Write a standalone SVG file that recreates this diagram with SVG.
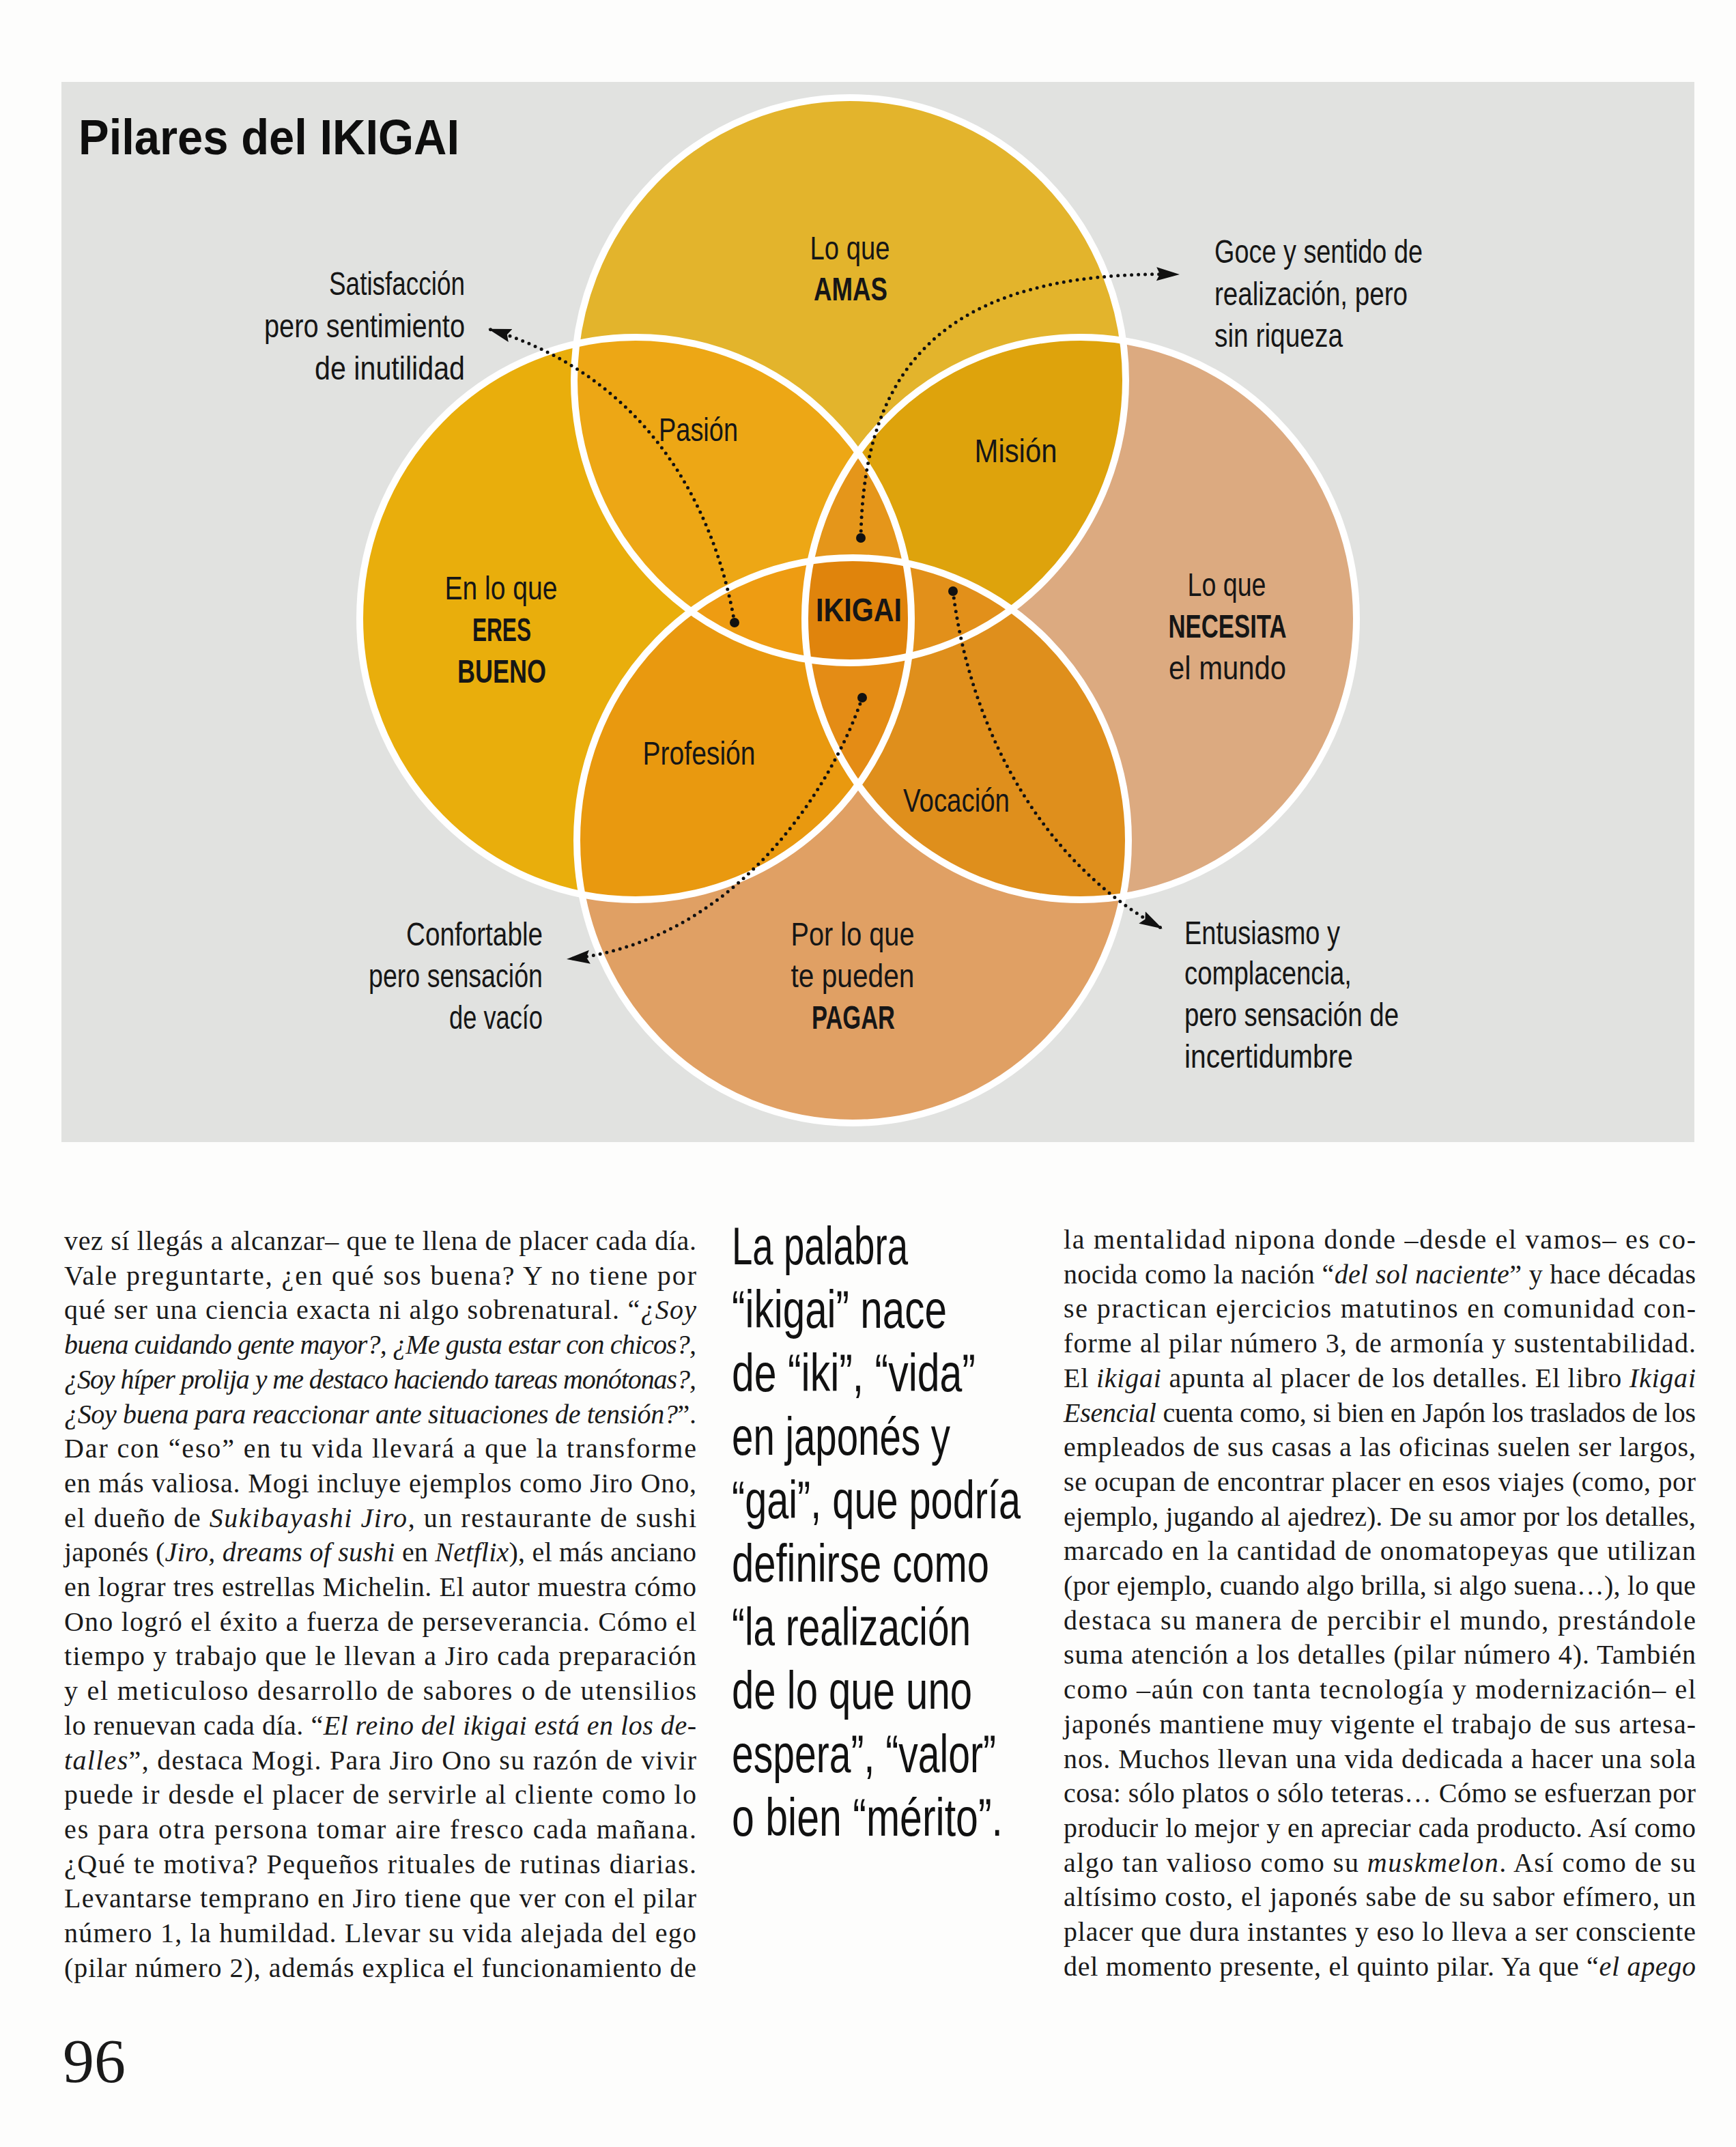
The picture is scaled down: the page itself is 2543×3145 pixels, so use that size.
<svg xmlns="http://www.w3.org/2000/svg" xmlns:xlink="http://www.w3.org/1999/xlink" width="2543" height="3145" viewBox="0 0 2543 3145">
<style>
.lbl{font-family:'Liberation Sans',Arial,sans-serif;font-size:48px;fill:#161616}
.b{font-weight:bold;font-size:48px}
.title{font-family:'Liberation Sans',Arial,sans-serif;font-weight:bold;font-size:72px;fill:#0e0e0e}
.body{font-family:'Liberation Serif','Times New Roman',serif;font-size:40px;fill:#1a1a1a}
.it{font-style:italic}
.pq{font-family:'Liberation Sans',Arial,sans-serif;font-size:78px;fill:#111}
.dots{fill:none;stroke:#111;stroke-width:5;stroke-linecap:round;stroke-dasharray:0 10}
.ring{fill:none;stroke:#ffffff;stroke-width:10}
</style>
<defs>
<ellipse id="eT" cx="1245" cy="557" rx="404" ry="414"/>
<ellipse id="eL" cx="931" cy="906" rx="404" ry="412"/>
<ellipse id="eR" cx="1583" cy="906" rx="404" ry="412"/>
<ellipse id="eB" cx="1249" cy="1231" rx="404" ry="414"/>
<clipPath id="cT"><ellipse cx="1245" cy="557" rx="404" ry="414"/></clipPath>
<clipPath id="cL"><ellipse cx="931" cy="906" rx="404" ry="412"/></clipPath>
<clipPath id="cR"><ellipse cx="1583" cy="906" rx="404" ry="412"/></clipPath>
<clipPath id="cB"><ellipse cx="1249" cy="1231" rx="404" ry="414"/></clipPath>
<marker id="arr" markerUnits="userSpaceOnUse" viewBox="0 0 34 22" markerWidth="34" markerHeight="22" refX="33" refY="11" orient="auto"><path d="M0,1 L34,11 L0,21 L5,11 z" fill="#111"/></marker>
</defs>

<rect x="0" y="0" width="2543" height="3145" fill="#fdfdfc"/>
<g id="panel"><rect x="90" y="120" width="2392" height="1553" fill="#e1e2e0"/></g>

<g id="title"><text class="title" x="115" y="226" textLength="558" lengthAdjust="spacingAndGlyphs">Pilares del IKIGAI</text></g>

<g id="circle-amas">
<use xlink:href="#eT" fill="#e3b42c"/>
<text class="lbl" x="1245" y="380" text-anchor="middle" textLength="117" lengthAdjust="spacingAndGlyphs">Lo que</text>
<text class="lbl b" x="1246" y="440" text-anchor="middle" textLength="108" lengthAdjust="spacingAndGlyphs">AMAS</text>
</g>
<g id="circle-eres-bueno">
<use xlink:href="#eL" fill="#e9ae0c"/>
<text class="lbl" x="734" y="878" text-anchor="middle" textLength="165" lengthAdjust="spacingAndGlyphs">En lo que</text>
<text class="lbl b" x="735" y="939" text-anchor="middle" textLength="86" lengthAdjust="spacingAndGlyphs">ERES</text>
<text class="lbl b" x="735" y="1000" text-anchor="middle" textLength="130" lengthAdjust="spacingAndGlyphs">BUENO</text>
</g>
<g id="circle-necesita">
<use xlink:href="#eR" fill="#dcaa80"/>
<text class="lbl" x="1797" y="873" text-anchor="middle" textLength="115" lengthAdjust="spacingAndGlyphs">Lo que</text>
<text class="lbl b" x="1798" y="934" text-anchor="middle" textLength="173" lengthAdjust="spacingAndGlyphs">NECESITA</text>
<text class="lbl" x="1798" y="995" text-anchor="middle" textLength="172" lengthAdjust="spacingAndGlyphs">el mundo</text>
</g>
<g id="circle-pagar">
<use xlink:href="#eB" fill="#e0a064"/>
<text class="lbl" x="1249" y="1385" text-anchor="middle" textLength="181" lengthAdjust="spacingAndGlyphs">Por lo que</text>
<text class="lbl" x="1249" y="1446" text-anchor="middle" textLength="181" lengthAdjust="spacingAndGlyphs">te pueden</text>
<text class="lbl b" x="1250" y="1507" text-anchor="middle" textLength="122" lengthAdjust="spacingAndGlyphs">PAGAR</text>
</g>

<g id="region-pasion">
<g clip-path="url(#cT)"><use xlink:href="#eL" fill="#eda715"/></g>
<text class="lbl" x="1023" y="646" text-anchor="middle" textLength="116" lengthAdjust="spacingAndGlyphs">Pasión</text>
</g>
<g id="region-mision">
<g clip-path="url(#cT)"><use xlink:href="#eR" fill="#dea30c"/></g>
<text class="lbl" x="1488" y="677" text-anchor="middle" textLength="121" lengthAdjust="spacingAndGlyphs">Misión</text>
</g>
<g id="region-profesion">
<g clip-path="url(#cL)"><use xlink:href="#eB" fill="#e9990f"/></g>
<text class="lbl" x="1024" y="1120" text-anchor="middle" textLength="165" lengthAdjust="spacingAndGlyphs">Profesión</text>
</g>
<g id="region-vocacion">
<g clip-path="url(#cR)"><use xlink:href="#eB" fill="#df8f1c"/></g>
<text class="lbl" x="1401" y="1189" text-anchor="middle" textLength="156" lengthAdjust="spacingAndGlyphs">Vocación</text>
</g>
<g id="region-amas-bueno-necesita">
<g clip-path="url(#cT)"><g clip-path="url(#cL)"><use xlink:href="#eR" fill="#e5961a"/></g></g>
</g>
<g id="region-amas-bueno-pagar">
<g clip-path="url(#cT)"><g clip-path="url(#cL)"><use xlink:href="#eB" fill="#ee9c12"/></g></g>
</g>
<g id="region-amas-necesita-pagar">
<g clip-path="url(#cT)"><g clip-path="url(#cR)"><use xlink:href="#eB" fill="#e2901a"/></g></g>
</g>
<g id="region-bueno-necesita-pagar">
<g clip-path="url(#cL)"><g clip-path="url(#cR)"><use xlink:href="#eB" fill="#e48c15"/></g></g>
</g>
<g id="region-ikigai">
<g clip-path="url(#cT)"><g clip-path="url(#cL)"><g clip-path="url(#cR)"><use xlink:href="#eB" fill="#e0840c"/></g></g></g>
<text class="lbl b" x="1258" y="910" text-anchor="middle" textLength="126" lengthAdjust="spacingAndGlyphs">IKIGAI</text>
</g>

<g id="outlines">
<use xlink:href="#eT" class="ring"/>
<use xlink:href="#eL" class="ring"/>
<use xlink:href="#eR" class="ring"/>
<use xlink:href="#eB" class="ring"/>
</g>

<g id="connectors">
<path class="dots" d="M1076,912 C1050,760 960,555 716,482" marker-end="url(#arr)"/>
<path class="dots" d="M1261,788 C1265,540 1380,395 1727,402" marker-end="url(#arr)"/>
<path class="dots" d="M1263,1022 C1220,1150 1080,1380 831,1405" marker-end="url(#arr)"/>
<path class="dots" d="M1396,866 C1420,1060 1520,1260 1702,1360" marker-end="url(#arr)"/>
<circle cx="1076" cy="912" r="7" fill="#111"/>
<circle cx="1261" cy="788" r="7" fill="#111"/>
<circle cx="1263" cy="1022" r="7" fill="#111"/>
<circle cx="1396" cy="866" r="7" fill="#111"/>
</g>

<g id="note-satisfaccion">
<text class="lbl" x="681" y="432" text-anchor="end" textLength="199" lengthAdjust="spacingAndGlyphs">Satisfacción</text>
<text class="lbl" x="681" y="494" text-anchor="end" textLength="294" lengthAdjust="spacingAndGlyphs">pero sentimiento</text>
<text class="lbl" x="681" y="556" text-anchor="end" textLength="220" lengthAdjust="spacingAndGlyphs">de inutilidad</text>
</g>
<g id="note-goce">
<text class="lbl" x="1779" y="385" textLength="305" lengthAdjust="spacingAndGlyphs">Goce y sentido de</text>
<text class="lbl" x="1779" y="447" textLength="283" lengthAdjust="spacingAndGlyphs">realización, pero</text>
<text class="lbl" x="1779" y="508" textLength="188" lengthAdjust="spacingAndGlyphs">sin riqueza</text>
</g>
<g id="note-confortable">
<text class="lbl" x="795" y="1385" text-anchor="end" textLength="200" lengthAdjust="spacingAndGlyphs">Confortable</text>
<text class="lbl" x="795" y="1446" text-anchor="end" textLength="255" lengthAdjust="spacingAndGlyphs">pero sensación</text>
<text class="lbl" x="795" y="1507" text-anchor="end" textLength="137" lengthAdjust="spacingAndGlyphs">de vacío</text>
</g>
<g id="note-entusiasmo">
<text class="lbl" x="1735" y="1383" textLength="228" lengthAdjust="spacingAndGlyphs">Entusiasmo y</text>
<text class="lbl" x="1735" y="1442" textLength="245" lengthAdjust="spacingAndGlyphs">complacencia,</text>
<text class="lbl" x="1735" y="1503" textLength="314" lengthAdjust="spacingAndGlyphs">pero sensación de</text>
<text class="lbl" x="1735" y="1564" textLength="247" lengthAdjust="spacingAndGlyphs">incertidumbre</text>
</g>

<g id="body-left">
<text class="body" x="94" y="1831" textLength="926" lengthAdjust="spacing">vez sí llegás a alcanzar– que te llena de placer cada día.</text>
<text class="body" x="94" y="1882" textLength="926" lengthAdjust="spacing">Vale preguntarte, ¿en qué sos buena? Y no tiene por</text>
<text class="body" x="94" y="1932" textLength="926" lengthAdjust="spacing">qué ser una ciencia exacta ni algo sobrenatural. “<tspan class="it">¿Soy</tspan></text>
<text class="body it" x="94" y="1983" textLength="926" lengthAdjust="spacing">buena cuidando gente mayor?, ¿Me gusta estar con chicos?,</text>
<text class="body it" x="94" y="2034" textLength="926" lengthAdjust="spacing">¿Soy híper prolija y me destaco haciendo tareas monótonas?,</text>
<text class="body" x="94" y="2085" textLength="926" lengthAdjust="spacing"><tspan class="it">¿Soy buena para reaccionar ante situaciones de tensión?</tspan>”.</text>
<text class="body" x="94" y="2135" textLength="926" lengthAdjust="spacing">Dar con “eso” en tu vida llevará a que la transforme</text>
<text class="body" x="94" y="2186" textLength="926" lengthAdjust="spacing">en más valiosa. Mogi incluye ejemplos como Jiro Ono,</text>
<text class="body" x="94" y="2237" textLength="926" lengthAdjust="spacing">el dueño de <tspan class="it">Sukibayashi Jiro</tspan>, un restaurante de sushi</text>
<text class="body" x="94" y="2287" textLength="926" lengthAdjust="spacing">japonés (<tspan class="it">Jiro, dreams of sushi</tspan> en <tspan class="it">Netflix</tspan>), el más anciano</text>
<text class="body" x="94" y="2338" textLength="926" lengthAdjust="spacing">en lograr tres estrellas Michelin. El autor muestra cómo</text>
<text class="body" x="94" y="2389" textLength="926" lengthAdjust="spacing">Ono logró el éxito a fuerza de perseverancia. Cómo el</text>
<text class="body" x="94" y="2439" textLength="926" lengthAdjust="spacing">tiempo y trabajo que le llevan a Jiro cada preparación</text>
<text class="body" x="94" y="2490" textLength="926" lengthAdjust="spacing">y el meticuloso desarrollo de sabores o de utensilios</text>
<text class="body" x="94" y="2541" textLength="926" lengthAdjust="spacing">lo renuevan cada día. “<tspan class="it">El reino del ikigai está en los de-</tspan></text>
<text class="body" x="94" y="2592" textLength="926" lengthAdjust="spacing"><tspan class="it">talles</tspan>”, destaca Mogi. Para Jiro Ono su razón de vivir</text>
<text class="body" x="94" y="2642" textLength="926" lengthAdjust="spacing">puede ir desde el placer de servirle al cliente como lo</text>
<text class="body" x="94" y="2693" textLength="926" lengthAdjust="spacing">es para otra persona tomar aire fresco cada mañana.</text>
<text class="body" x="94" y="2744" textLength="926" lengthAdjust="spacing">¿Qué te motiva? Pequeños rituales de rutinas diarias.</text>
<text class="body" x="94" y="2794" textLength="926" lengthAdjust="spacing">Levantarse temprano en Jiro tiene que ver con el pilar</text>
<text class="body" x="94" y="2845" textLength="926" lengthAdjust="spacing">número 1, la humildad. Llevar su vida alejada del ego</text>
<text class="body" x="94" y="2896" textLength="926" lengthAdjust="spacing">(pilar número 2), además explica el funcionamiento de</text>
</g>

<g id="pull-quote">
<text class="pq" x="1072" y="1852" textLength="258" lengthAdjust="spacingAndGlyphs">La palabra</text>
<text class="pq" x="1072" y="1945" textLength="315" lengthAdjust="spacingAndGlyphs">“ikigai” nace</text>
<text class="pq" x="1072" y="2038" textLength="357" lengthAdjust="spacingAndGlyphs">de “iki”, “vida”</text>
<text class="pq" x="1072" y="2131" textLength="320" lengthAdjust="spacingAndGlyphs">en japonés y</text>
<text class="pq" x="1072" y="2224" textLength="423" lengthAdjust="spacingAndGlyphs">“gai”, que podría</text>
<text class="pq" x="1072" y="2317" textLength="377" lengthAdjust="spacingAndGlyphs">definirse como</text>
<text class="pq" x="1072" y="2410" textLength="350" lengthAdjust="spacingAndGlyphs">“la realización</text>
<text class="pq" x="1072" y="2503" textLength="352" lengthAdjust="spacingAndGlyphs">de lo que uno</text>
<text class="pq" x="1072" y="2596" textLength="387" lengthAdjust="spacingAndGlyphs">espera”, “valor”</text>
<text class="pq" x="1072" y="2689" textLength="397" lengthAdjust="spacingAndGlyphs">o bien “mérito”.</text>
</g>

<g id="body-right">
<text class="body" x="1558" y="1829" textLength="926" lengthAdjust="spacing">la mentalidad nipona donde –desde el vamos– es co-</text>
<text class="body" x="1558" y="1880" textLength="926" lengthAdjust="spacing">nocida como la nación “<tspan class="it">del sol naciente</tspan>” y hace décadas</text>
<text class="body" x="1558" y="1930" textLength="926" lengthAdjust="spacing">se practican ejercicios matutinos en comunidad con-</text>
<text class="body" x="1558" y="1981" textLength="926" lengthAdjust="spacing">forme al pilar número 3, de armonía y sustentabilidad.</text>
<text class="body" x="1558" y="2032" textLength="926" lengthAdjust="spacing">El <tspan class="it">ikigai</tspan> apunta al placer de los detalles. El libro <tspan class="it">Ikigai</tspan></text>
<text class="body" x="1558" y="2083" textLength="926" lengthAdjust="spacing"><tspan class="it">Esencial</tspan> cuenta como, si bien en Japón los traslados de los</text>
<text class="body" x="1558" y="2133" textLength="926" lengthAdjust="spacing">empleados de sus casas a las oficinas suelen ser largos,</text>
<text class="body" x="1558" y="2184" textLength="926" lengthAdjust="spacing">se ocupan de encontrar placer en esos viajes (como, por</text>
<text class="body" x="1558" y="2235" textLength="926" lengthAdjust="spacing">ejemplo, jugando al ajedrez). De su amor por los detalles,</text>
<text class="body" x="1558" y="2285" textLength="926" lengthAdjust="spacing">marcado en la cantidad de onomatopeyas que utilizan</text>
<text class="body" x="1558" y="2336" textLength="926" lengthAdjust="spacing">(por ejemplo, cuando algo brilla, si algo suena…), lo que</text>
<text class="body" x="1558" y="2387" textLength="926" lengthAdjust="spacing">destaca su manera de percibir el mundo, prestándole</text>
<text class="body" x="1558" y="2437" textLength="926" lengthAdjust="spacing">suma atención a los detalles (pilar número 4). También</text>
<text class="body" x="1558" y="2488" textLength="926" lengthAdjust="spacing">como –aún con tanta tecnología y modernización– el</text>
<text class="body" x="1558" y="2539" textLength="926" lengthAdjust="spacing">japonés mantiene muy vigente el trabajo de sus artesa-</text>
<text class="body" x="1558" y="2590" textLength="926" lengthAdjust="spacing">nos. Muchos llevan una vida dedicada a hacer una sola</text>
<text class="body" x="1558" y="2640" textLength="926" lengthAdjust="spacing">cosa: sólo platos o sólo teteras… Cómo se esfuerzan por</text>
<text class="body" x="1558" y="2691" textLength="926" lengthAdjust="spacing">producir lo mejor y en apreciar cada producto. Así como</text>
<text class="body" x="1558" y="2742" textLength="926" lengthAdjust="spacing">algo tan valioso como su <tspan class="it">muskmelon</tspan>. Así como de su</text>
<text class="body" x="1558" y="2792" textLength="926" lengthAdjust="spacing">altísimo costo, el japonés sabe de su sabor efímero, un</text>
<text class="body" x="1558" y="2843" textLength="926" lengthAdjust="spacing">placer que dura instantes y eso lo lleva a ser consciente</text>
<text class="body" x="1558" y="2894" textLength="926" lengthAdjust="spacing">del momento presente, el quinto pilar. Ya que “<tspan class="it">el apego</tspan></text>
</g>

<g id="page-number"><text class="body" x="92" y="3050" style="font-size:92px" fill="#1a1a1a">96</text></g>
</svg>
